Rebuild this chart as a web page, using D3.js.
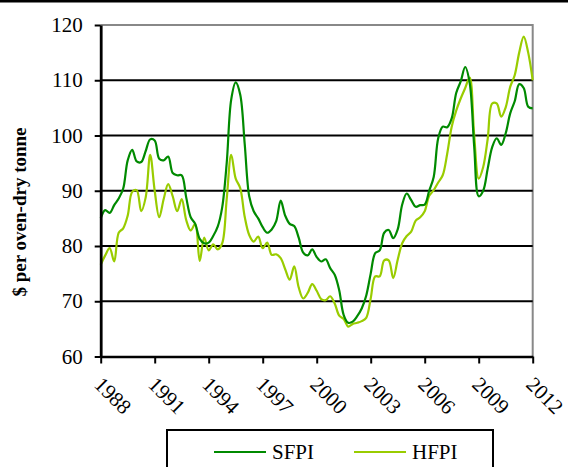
<!DOCTYPE html>
<html lang="en">
<head>
    <meta charset="UTF-8">
    <title>SFPI and HFPI</title>
    <style>
        body { margin: 0; background: #fff; }
        svg text { font-family: "Liberation Serif", "Times New Roman", Times, serif; fill: #000; }
    </style>
</head>
<body>
    <div id="chart"></div>
    <script src="https://d3js.org/d3.v7.min.js"></script>
    <script>
        // quarterly values, 1988 Q1 .. 2012 Q1
        const startYear = 1988;
        const sfpi = [
            85.0, 86.5, 86.0, 87.4, 88.6, 90.4, 95.5, 97.4, 95.3, 95.2,
            97.2, 99.3, 99.1, 95.8, 95.5, 96.2, 93.2, 92.8, 92.8, 88.8,
            85.2, 84.0, 81.3, 80.5, 80.6, 81.8, 83.5, 87.0, 95.0, 106.5,
            109.6, 107.4, 98.5, 89.0, 86.3, 85.0, 83.4, 82.4, 83.0, 84.5,
            88.2, 85.5, 84.0, 83.6, 81.5, 78.8, 78.3, 79.4, 78.0, 77.2,
            77.6, 76.0, 74.8, 72.0, 67.5, 66.1, 66.3, 67.3, 68.7, 71.0,
            75.0, 78.7, 79.2, 82.4, 82.9, 81.4, 83.0, 87.5, 89.5, 88.3,
            87.1, 87.4, 87.5, 90.0, 92.5, 99.5, 101.6, 101.5, 103.1, 107.7,
            109.8, 112.4, 109.5, 98.0, 89.0, 90.0, 94.0, 97.9, 99.5, 98.3,
            100.4, 104.0, 106.2, 109.3, 108.6, 105.2, 104.9
        ];
        const hfpi = [
            76.6, 78.3, 79.6, 77.2, 82.4, 83.2, 85.5, 89.8, 90.1, 86.3,
            88.8, 96.5, 90.0, 85.2, 88.5, 91.2, 89.0, 86.3, 88.5, 84.7,
            82.8, 84.0, 77.3, 81.5, 79.2, 80.3, 79.4, 80.5, 88.5, 96.5,
            92.2, 90.5, 85.3, 82.0, 80.8, 81.7, 79.6, 80.6, 78.4, 78.5,
            77.8, 75.8, 73.9, 76.3, 72.5, 70.5, 71.5, 73.1, 71.9, 70.4,
            70.2, 70.9, 69.6, 67.4, 66.8, 65.4, 65.9, 66.1, 66.4, 67.0,
            70.5, 74.5, 74.5, 77.4, 77.4, 74.2, 77.5, 80.5, 81.8, 82.6,
            84.6, 85.2, 86.3, 89.1, 90.1, 91.5, 92.8, 96.7, 101.6, 104.5,
            106.7, 108.6, 110.5, 100.0, 92.2, 94.3, 99.4, 105.8, 105.8, 103.4,
            105.1, 108.8, 110.9, 115.0, 117.9, 115.0, 110.0
        ];
        const yearTicks = [1988, 1991, 1994, 1997, 2000, 2003, 2006, 2009, 2012];
        const valueTicks = [60, 70, 80, 90, 100, 110, 120];
        const gridValues = [70, 80, 90, 100, 110];
        const seriesNames = ["SFPI", "HFPI"];
        const seriesColors = ["#008a00", "#99cc00"];

        const width = 568, height = 467;
        const plot = {left: 100.7, right: 532.7, top: 25, bottom: 356.5};

        const svg = d3.select("#chart")
            .append("svg")
            .attr("width", width)
            .attr("height", height);

        const x = d3.scaleLinear().domain([1988, 2012]).range([plot.left, plot.right]);
        const y = d3.scaleLinear().domain([60, 120]).range([plot.bottom, plot.top]);

        // page rule at the top
        svg.append("rect")
            .attr("x", 0).attr("y", 0)
            .attr("width", width).attr("height", 2.5)
            .attr("fill", "#000");

        // grey plot border (top and right)
        svg.append("path")
            .attr("d", `M${plot.left},${plot.top}H${plot.right}V${plot.bottom}`)
            .attr("fill", "none")
            .attr("stroke", "#888")
            .attr("stroke-width", 2);

        svg.selectAll(".grid")
            .data(gridValues)
            .enter()
            .append("line")
            .attr("class", "grid")
            .attr("x1", plot.left).attr("x2", plot.right)
            .attr("y1", d => y(d)).attr("y2", d => y(d))
            .attr("stroke", "#000")
            .attr("stroke-width", 2);

        // series
        const line = d3.line()
            .x((d, i) => x(startYear + i / 4))
            .y(d => y(d))
            .curve(d3.curveCatmullRom.alpha(0.5));

        // draw HFPI first so SFPI sits on top where they cross
        [hfpi, sfpi].forEach(function (values) {
            const k = values === sfpi ? 0 : 1;
            svg.append("path")
                .datum(values)
                .attr("d", line)
                .attr("fill", "none")
                .attr("stroke", seriesColors[k])
                .attr("stroke-width", 2.2)
                .attr("stroke-linejoin", "round");
        });

        // y axis
        const yAxis = svg.append("g")
            .attr("transform", `translate(${plot.left},0)`)
            .call(d3.axisLeft(y).tickValues(valueTicks).tickSize(6).tickPadding(12).tickSizeOuter(0));
        yAxis.attr("font-family", null);
        yAxis.select(".domain").attr("stroke", "#000").attr("stroke-width", 2.8);
        yAxis.selectAll(".tick line").attr("stroke", "#000").attr("stroke-width", 2);
        yAxis.selectAll(".tick text").attr("font-size", 21);

        // x axis
        const xAxis = svg.append("g")
            .attr("transform", `translate(0,${plot.bottom})`)
            .call(d3.axisBottom(x).tickValues(yearTicks).tickFormat(d3.format("d")).tickSize(7).tickSizeOuter(0));
        xAxis.attr("font-family", null);
        xAxis.select(".domain").attr("stroke", "#000").attr("stroke-width", 2.5);
        xAxis.selectAll(".tick line").attr("stroke", "#000").attr("stroke-width", 2);
        xAxis.selectAll(".tick text")
            .attr("font-size", 21)
            .attr("text-anchor", "start")
            .attr("x", 0).attr("y", 0).attr("dy", "0.35em")
            .attr("transform", "translate(-3,24) rotate(45)");

        // y axis title
        svg.append("text")
            .attr("transform", "translate(26,212) rotate(-90)")
            .attr("text-anchor", "middle")
            .attr("font-size", 19)
            .attr("font-weight", "bold")
            .text("$ per oven-dry tonne");

        // legend
        svg.append("rect")
            .attr("x", 167).attr("y", 430)
            .attr("width", 326).attr("height", 60)
            .attr("fill", "#fff")
            .attr("stroke", "#000")
            .attr("stroke-width", 2);

        const legendX = [214, 354];
        const legend = svg.selectAll(".legend")
            .data(seriesNames)
            .enter()
            .append("g")
            .attr("class", "legend")
            .attr("transform", (d, i) => `translate(${legendX[i]},452)`);
        legend.append("line")
            .attr("x1", 0).attr("x2", 52)
            .attr("stroke", (d, i) => seriesColors[i])
            .attr("stroke-width", 2.2);
        legend.append("text")
            .attr("x", 58).attr("y", 7)
            .attr("font-size", 21)
            .text(d => d);
    </script>
</body>
</html>
